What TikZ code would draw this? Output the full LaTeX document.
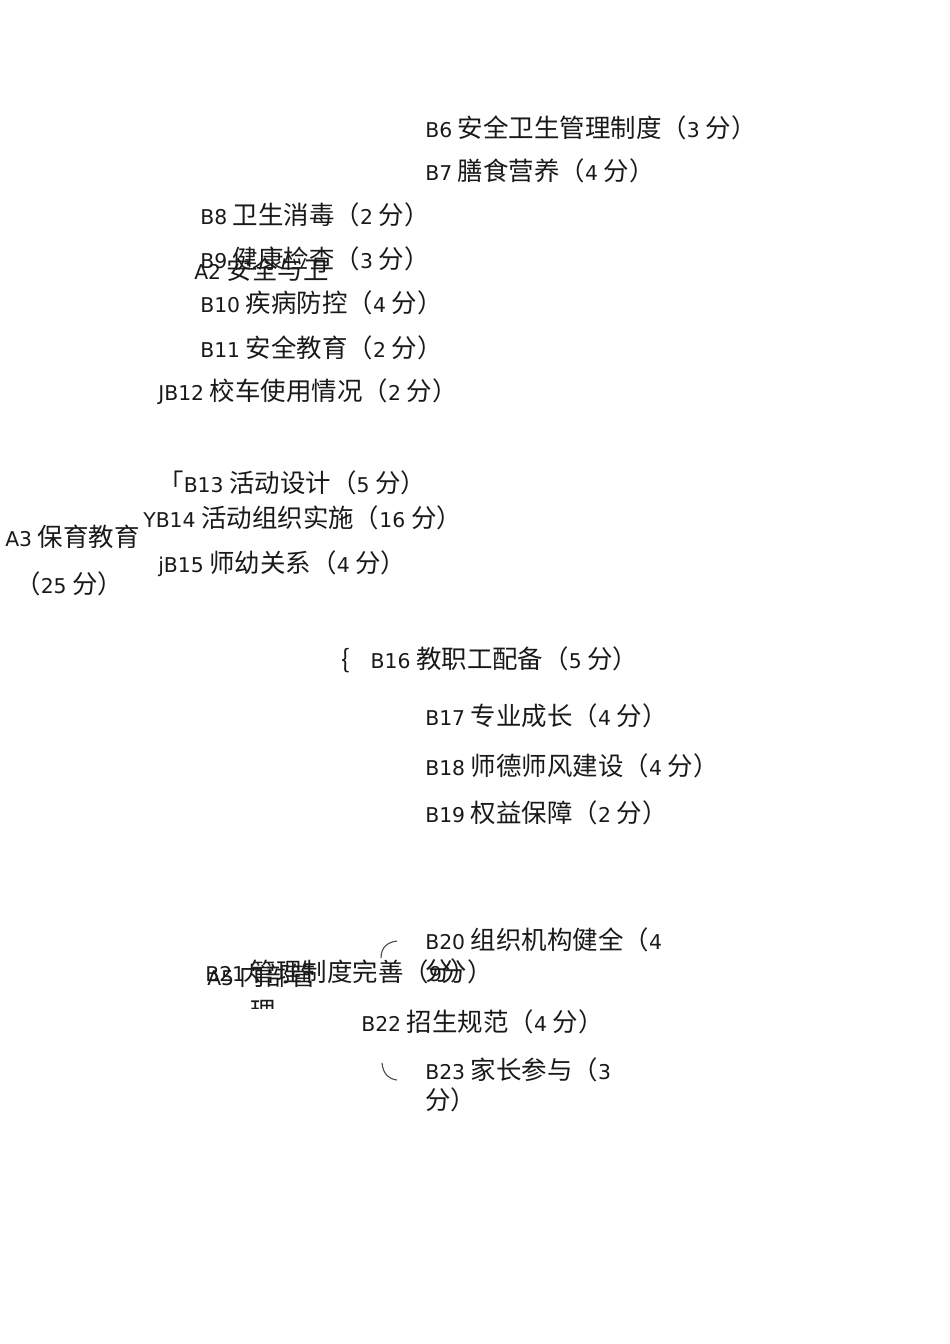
\documentclass[tikz,border=0pt]{standalone}
\usepackage{fontspec}
\newfontfamily\cjk{Noto Sans CJK SC}
\newfontfamily\lat{DejaVu Sans}[Scale=0.8]

\begin{document}
\begin{tikzpicture}[x=0.221mm, y=-0.221mm,
        item/.style={anchor=base west, inner sep=0pt, text=black!90, font=\cjk\fontsize{16}{19}\selectfont},
        brace/.style={line width=.7pt, black!70}]
    \useasboundingbox (0,0) rectangle (950,1344);

    \foreach \n/\x/\y/\t in {b6/425/137/{{\lat B6} 安全卫生管理制度（{\lat 3} 分）},
        b7/425/180/{{\lat B7} 膳食营养（{\lat 4} 分）},
        b8/200/224/{{\lat B8} 卫生消毒（{\lat 2} 分）},
        b9/200/268/{{\lat B9} 健康检查（{\lat 3} 分）},
        a2/194/279/{{\lat A2} 安全与卫},
        b10/200/312/{{\lat B10} 疾病防控（{\lat 4} 分）},
        b11/200/357/{{\lat B11} 安全教育（{\lat 2} 分）},
        b12/158/400/{{\lat JB12} 校车使用情况（{\lat 2} 分）},
        b13/158/492/{「{\lat B13} 活动设计（{\lat 5} 分）},
        b14/143/527/{{\lat YB14} 活动组织实施（{\lat 16} 分）},
        a3/5/546/{{\lat A3} 保育教育},
        a3s/15/593/{（{\lat 25} 分）},
        b15/158/572/{{\lat jB15} 师幼关系（{\lat 4} 分）},
        b16/341/668/{\{\hspace{13pt}{\lat B16} 教职工配备（{\lat 5} 分）},
        b17/425/725/{{\lat B17} 专业成长（{\lat 4} 分）},
        b18/425/775/{{\lat B18} 师德师风建设（{\lat 4} 分）},
        b19/425/822/{{\lat B19} 权益保障（{\lat 2} 分）},
        b20/425/949/{{\lat B20} 组织机构健全（{\lat 4}},
        b20s/425/980/{分）},
        b21/205/981/{{\lat B21} 管理制度完善（{\lat 9}分）},
        a5/207/985/{{\lat A5} 内部管},
        b22/361/1031/{{\lat B22} 招生规范（{\lat 4} 分）},
        b23/425/1079/{{\lat B23} 家长参与（{\lat 3}},
        b23s/425/1109/{分）}} {
        \node[item] (\n) at (\x,\y) {\t};}

    % second line of A5, cut off by the page
    \begin{scope}
        \clip (0,0) rectangle (950,1008);
        \node[item] (a5s) at (250,1020) {理};
    \end{scope}

    \draw[brace] (381,958) .. controls (381,947) and (388,942) .. (397,941);
    \draw[brace] (382,1063) .. controls (383,1074) and (389,1079) .. (397,1080);
\end{tikzpicture}
\end{document}
